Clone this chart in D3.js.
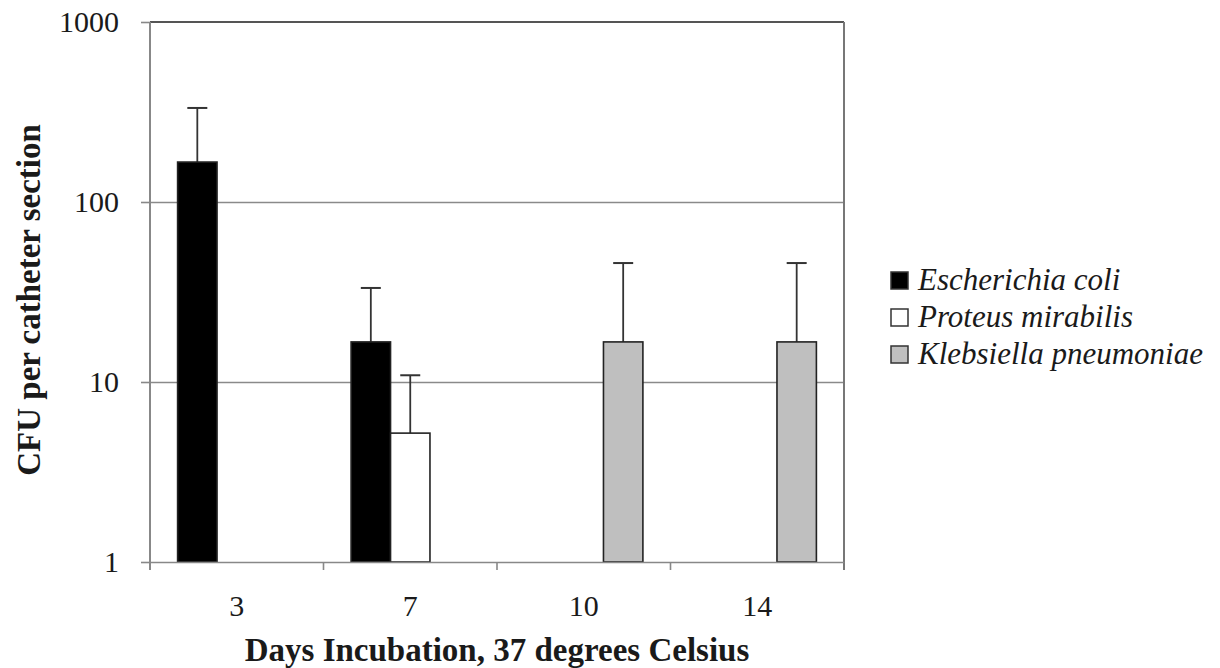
<!DOCTYPE html>
<html>
<head>
<meta charset="utf-8">
<script src="https://cdn.jsdelivr.net/npm/d3@7"></script>
<style>
  body { margin: 0; background: #fff; }
  text { font-family: "Liberation Serif", serif; fill: #1a1a1a; }
</style>
</head>
<body>
<svg width="1220" height="668"></svg>
<script>
// data
var days = ["3", "7", "10", "14"];
var species = ["Escherichia coli", "Proteus mirabilis", "Klebsiella pneumoniae"];
var ecoli   = [166.7, 16.7, 0, 0];
var proteus = [0, 5.2, 0, 0];
var kleb    = [0, 0, 16.7, 16.7];
// top of the error bars
var ecoliErr   = [333, 33.3, 0, 0];
var proteusErr = [0, 10.9, 0, 0];
var klebErr    = [0, 0, 45.8, 45.8];
var yTicks = [1, 10, 100, 1000];

var fills = ["#000000", "#ffffff", "#bfbfbf"];

var svg = d3.select("svg"),
    margin = { top: 22, right: 376, bottom: 106, left: 150 },
    width = +svg.attr("width") - margin.left - margin.right,
    height = +svg.attr("height") - margin.top - margin.bottom;

var g = svg.append("g").attr("transform", "translate(" + margin.left + "," + margin.top + ")");

var x0 = d3.scaleBand().domain(days).range([0, width]).paddingInner(0).paddingOuter(0);
var x1 = d3.scaleBand().domain(species).range([0, x0.bandwidth()]).paddingInner(0).paddingOuter(0.7);
var y = d3.scaleLog().domain([1, 1000]).range([height, 0]);

// rows: one per bar
var vals = [ecoli, proteus, kleb], errs = [ecoliErr, proteusErr, klebErr];
var bars = [];
species.forEach(function(s, i) {
  days.forEach(function(d, j) {
    if (vals[i][j] > 0) bars.push({ day: d, sp: s, idx: i, v: vals[i][j], e: errs[i][j] });
  });
});

// gridlines
var grid = g.append("g")
    .call(d3.axisLeft(y).tickValues([10, 100]).tickSize(-width).tickFormat(""));
grid.select(".domain").remove();
grid.selectAll("line").attr("stroke", "#8a8a8a").attr("stroke-width", 1.6);

// frame: top and right
g.append("line").attr("x1", 0).attr("x2", width).attr("y1", y(1000)).attr("y2", y(1000))
  .attr("stroke", "#555").attr("stroke-width", 2);
g.append("line").attr("x1", width).attr("x2", width).attr("y1", y(1000)).attr("y2", height + 8)
  .attr("stroke", "#777").attr("stroke-width", 2);

// error bars (drawn before bars so stems sit on top edge)
var err = g.append("g").selectAll("g").data(bars).enter().append("g");
err.append("line")
  .attr("x1", function(d) { return x0(d.day) + x1(d.sp) + x1.bandwidth() / 2; })
  .attr("x2", function(d) { return x0(d.day) + x1(d.sp) + x1.bandwidth() / 2; })
  .attr("y1", function(d) { return y(d.v); })
  .attr("y2", function(d) { return y(d.e); })
  .attr("stroke", "#333").attr("stroke-width", 1.8);
err.append("line")
  .attr("x1", function(d) { return x0(d.day) + x1(d.sp) + x1.bandwidth() / 2 - 10; })
  .attr("x2", function(d) { return x0(d.day) + x1(d.sp) + x1.bandwidth() / 2 + 10; })
  .attr("y1", function(d) { return y(d.e); })
  .attr("y2", function(d) { return y(d.e); })
  .attr("stroke", "#333").attr("stroke-width", 2);

g.append("g").selectAll("rect").data(bars).enter().append("rect")
  .attr("x", function(d) { return x0(d.day) + x1(d.sp); })
  .attr("width", x1.bandwidth())
  .attr("y", function(d) { return y(d.v); })
  .attr("height", function(d) { return y(1) - y(d.v); })
  .attr("fill", function(d) { return fills[d.idx]; })
  .attr("stroke", "#222").attr("stroke-width", 1.6);

// axes
var yAxis = g.append("g")
    .call(d3.axisLeft(y).tickValues(yTicks).tickFormat(d3.format("d")).tickSize(9).tickPadding(22));
yAxis.select(".domain").attr("stroke", "#888").attr("stroke-width", 2)
  .attr("d", "M0," + (height + 8) + "V0");
yAxis.selectAll(".tick line").attr("stroke", "#888").attr("stroke-width", 1.6);
yAxis.selectAll(".tick text").style("font-size", "30px").attr("fill", "#222");

var xAxis = g.append("g").attr("transform", "translate(0," + height + ")")
    .call(d3.axisBottom(x0).tickSize(0).tickPadding(33));
xAxis.select(".domain").attr("stroke", "#888").attr("stroke-width", 1.6);
xAxis.selectAll(".tick text").style("font-size", "30px").attr("fill", "#222");

// category separators below the axis
g.append("g").selectAll("line").data(days.slice(1)).enter().append("line")
  .attr("x1", function(d) { return x0(d); }).attr("x2", function(d) { return x0(d); })
  .attr("y1", height).attr("y2", height + 8)
  .attr("stroke", "#888").attr("stroke-width", 1.6);

// axis titles
svg.append("text")
  .attr("x", margin.left + width / 2).attr("y", 661)
  .attr("text-anchor", "middle")
  .style("font-size", "33px").style("font-weight", "bold")
  .text("Days Incubation, 37 degrees Celsius");

svg.append("text")
  .attr("transform", "translate(40," + (margin.top + height / 2 + 8) + ") rotate(-90)")
  .attr("text-anchor", "middle")
  .style("font-size", "33px").style("font-weight", "bold")
  .text("CFU per catheter section");

// legend
var legend = svg.append("g").attr("transform", "translate(891,272)");
var item = legend.selectAll("g").data(species).enter().append("g")
  .attr("transform", function(d, i) { return "translate(0," + i * 37 + ")"; });
item.append("rect").attr("width", 17).attr("height", 17)
  .attr("fill", function(d, i) { return fills[i]; })
  .attr("stroke", "#333").attr("stroke-width", 1.5);
item.append("text").attr("x", 27).attr("y", 18)
  .style("font-size", "31px").style("font-style", "italic")
  .text(function(d) { return d; });
</script>
</body>
</html>
